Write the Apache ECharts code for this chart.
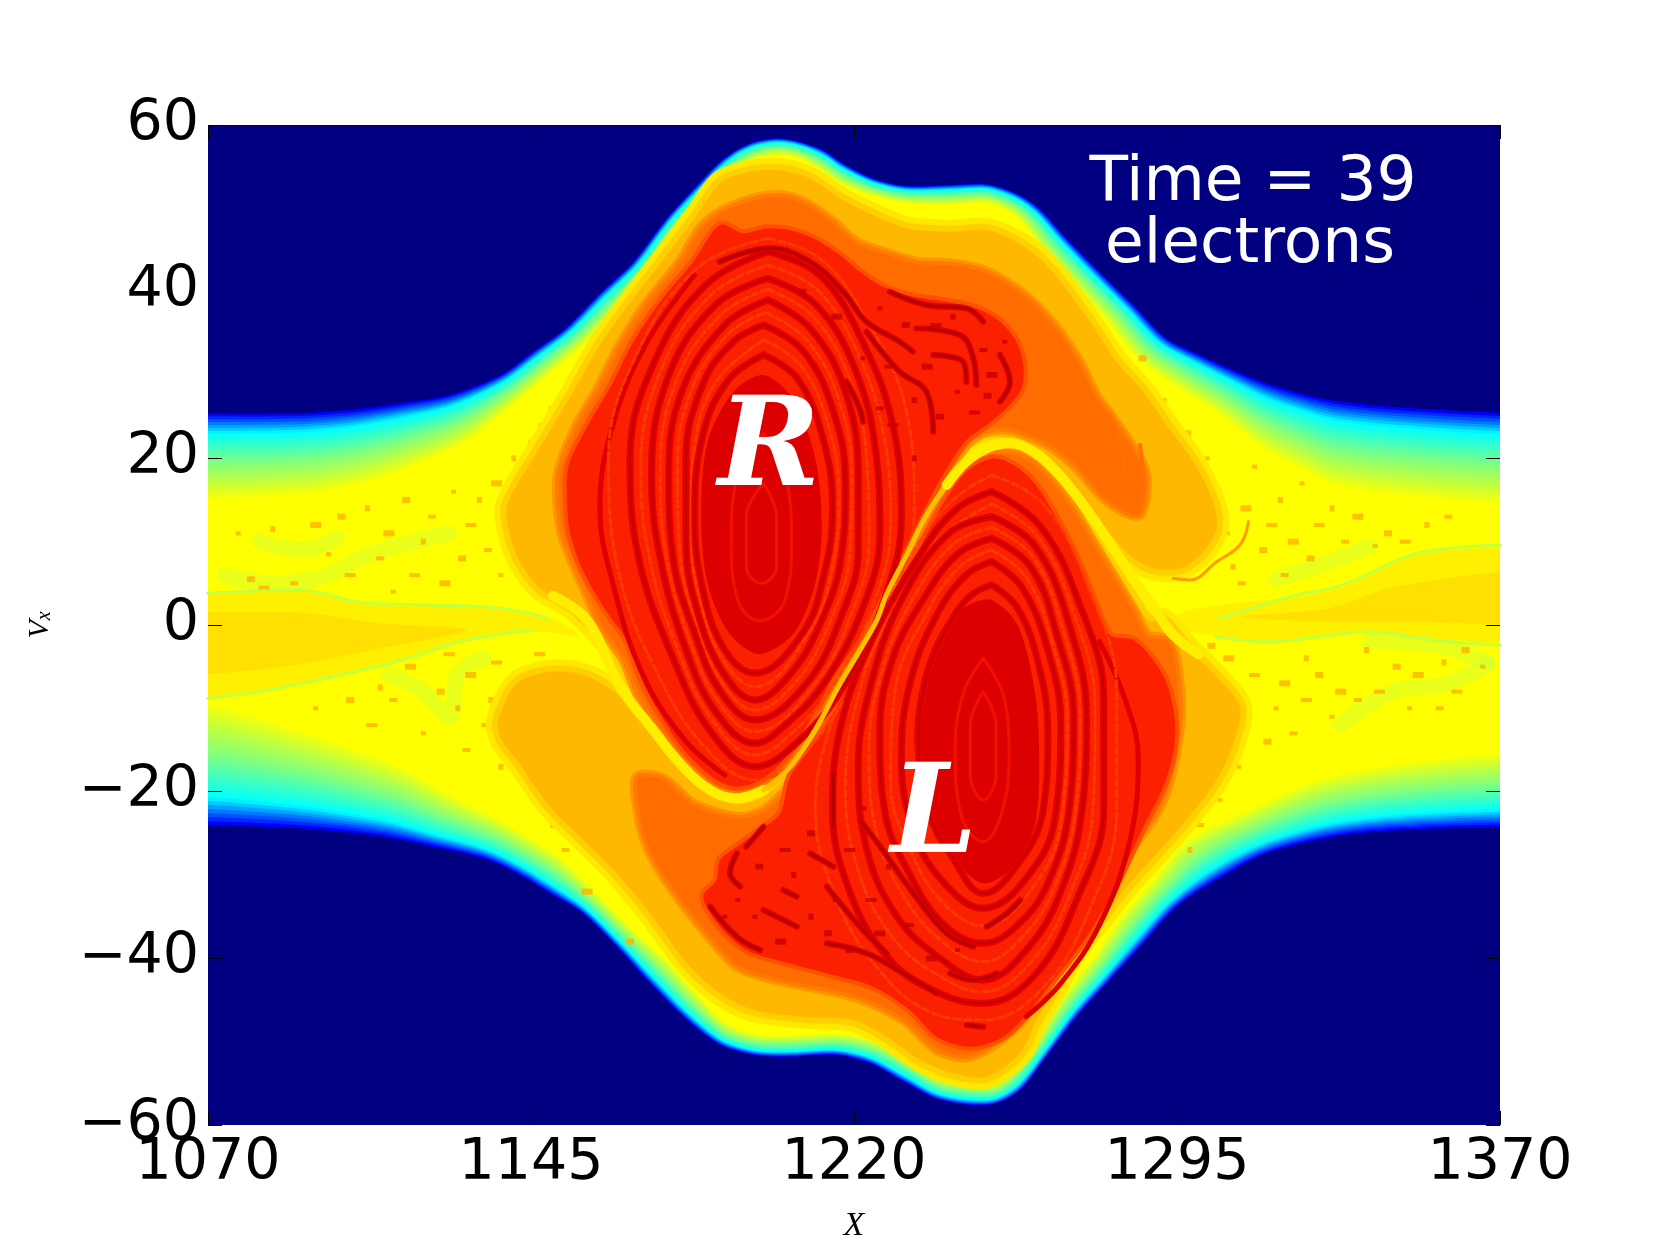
<!DOCTYPE html>
<html>
<head>
<meta charset="utf-8">
<style>html,body{margin:0;padding:0;background:#fff}#chart{width:1667px;height:1250px}</style>
<script src="https://cdn.jsdelivr.net/npm/echarts@6/dist/echarts.min.js"></script>
</head>
<body>
<div id="chart"></div>
<script>
// Electron phase space (X, Vx) at time 39: contours of the distribution function.
const xTicks = [1070, 1145, 1220, 1295, 1370];
const yTicks = [-60, -40, -20, 0, 20, 40, 60];

// Plasma edge: navy boundary and the contour where the distribution reaches yellow.
const upperOuter = [[1030,25.4],[1066,25.4],[1091,25.4],[1103,25.8],[1114.6,26.6],[1126,27.6],[1138,30],[1145.5,32.8],[1153,35.6],[1161,39.8],[1168.8,43.6],[1176.5,48.8],[1184,53],[1188,55.2],[1192,56.8],[1197,58],[1202.4,58.4],[1207.4,58],[1212.8,57],[1217.5,55.4],[1224.4,53.6],[1232,52.7],[1242,52.8],[1250.8,52.9],[1257.7,51.8],[1263,50],[1269.4,46.4],[1277,42.4],[1284.9,38.4],[1292.6,34.4],[1300.3,32.4],[1308,30.6],[1315.8,29],[1323.6,27.8],[1331.3,26.9],[1346.8,26.1],[1374,25.4],[1410,25.4]];
const upperInner = [[1030,15],[1066,15],[1091,15.6],[1104.5,16.8],[1118.4,19.2],[1130,22],[1141.7,26.8],[1150,30.4],[1158,34],[1165.7,38],[1172.6,42],[1179.6,47.2],[1187.3,51.6],[1191,53.4],[1194,55],[1198,56],[1202.4,56.4],[1207,56],[1212,54.6],[1216.5,53],[1224,51.5],[1232,50.6],[1242,50.4],[1250.8,50.6],[1256.5,49.4],[1260,47.6],[1263.2,45.2],[1270.9,40.8],[1278.7,36.4],[1285.6,32],[1294.1,28.8],[1305,25.2],[1315,21.2],[1323.6,18.8],[1331.3,16.8],[1346.8,15.6],[1374,14.4],[1410,14.4]];
const lowerOuter = [[1030,-24],[1066,-24],[1091,-24.4],[1110.7,-25.4],[1122.3,-26.6],[1134,-28],[1141.7,-29.8],[1149.4,-32.2],[1157,-34.6],[1164.9,-38.6],[1172.6,-43],[1181.2,-47.4],[1189,-50.4],[1196.7,-51.6],[1204.4,-51.8],[1216,-51.6],[1223.7,-52.6],[1231.5,-54.8],[1239,-56.8],[1247,-57.6],[1253,-57.4],[1258.6,-55.8],[1264.4,-52],[1271.7,-47],[1279.4,-42.6],[1287.2,-38.2],[1294.9,-33.8],[1304.2,-30.6],[1315.8,-27.4],[1331.3,-25.4],[1346.8,-24.6],[1374,-24.2],[1410,-24.2]];
const lowerInner = [[1030,-9],[1066,-9],[1091,-12.6],[1114.6,-17],[1127,-20.6],[1137.8,-23.4],[1145.5,-25.8],[1152.5,-28.2],[1159.5,-31.8],[1168.8,-36.6],[1176.5,-40.2],[1184.3,-44.6],[1190.5,-47.8],[1196.7,-49],[1204.4,-49.2],[1216.8,-49],[1225.3,-49.8],[1233,-51.8],[1240,-54.2],[1247,-54.8],[1253,-54.8],[1257,-53],[1262.4,-49.4],[1268,-44.8],[1275.6,-39.8],[1282.5,-34.6],[1288.7,-31],[1297.2,-25.8],[1309.6,-22.6],[1327.4,-18.6],[1346.8,-16.6],[1374,-15.2],[1410,-15.2]];

// Cold beam tails on either side of the vortices.
const goldLeft = [[1030,3.6],[1066,3.6],[1091,4.2],[1106.8,2.6],[1122.3,2.4],[1137.8,2],[1149.4,0.8],[1156,-1.2],[1145.5,-0.8],[1130,-2],[1114.6,-4.4],[1099,-6.4],[1083.6,-8],[1066,-9],[1030,-9]];
const goldRight = [[1290,0],[1300,2],[1323.6,3.4],[1331.3,4.2],[1339,5.8],[1346.8,7.8],[1354.5,8.8],[1374,9.4],[1410,9.4],[1410,-2.2],[1374,-2.2],[1354,-1.6],[1339,-0.6],[1331,-1],[1315.8,-1.8],[1300,-1]];
const goldLeftCore = [[1030,1.5],[1066,1.5],[1091,1.5],[1110,0.2],[1130,-0.6],[1110,-2.8],[1090,-4.8],[1066,-6],[1030,-6]];
const goldRightCore = [[1310,1],[1330,2],[1345,4.5],[1374,6.5],[1410,6.5],[1410,0],[1374,0],[1350,0.4],[1330,0.4]];

const greenThinLines = [
  [[1070,3.8],[1091,4.2],[1107,2.6],[1122,2.4],[1138,2],[1149,0.8]],
  [[1070,-8.8],[1084,-7.8],[1099,-6.2],[1115,-4.2],[1130,-1.8],[1146,-0.6]],
  [[1305,0.8],[1323,3.6],[1331,4.4],[1339,6],[1347,8],[1355,9],[1370,9.6]],
  [[1304,-1.4],[1316,-2],[1331,-1.2],[1340,-0.8],[1354,-1.8],[1370,-2.4]]
];
const greenPatches = [
  [[1074,6],[1085,5],[1098,6],[1105,8],[1118,10],[1126,11]],
  [[1082,10],[1092,9],[1100,10.5]],
  [[1112,-6],[1120,-8],[1126,-11],[1128,-6],[1134,-4]],
  [[1340,-2],[1355,-2.4],[1367,-4.6]],
  [[1333,-12],[1345,-8],[1358,-7],[1367,-4.6]],
  [[1318,5.5],[1330,7.5],[1340,9.5]]
];

// Hot speckle scattered through the trapped-particle fringe.
const speckleUpperLeft = [[1077,11],[1080,5.5],[1083,4.5],[1085,11.5],[1090,5],[1095,12],[1098,8.5],[1101,13],[1103,6],[1107,14],[1110,8],[1112,11],[1113,4],[1116,15],[1118,6],[1120,10],[1122,13],[1125,5],[1127,16],[1129,8],[1131,12],[1133,15],[1135,9],[1137,17],[1138,6],[1139,12],[1140,10],[1141,20],[1142,14],[1143,7],[1145,22],[1146,5.5],[1148,24],[1149,3.5],[1150,26],[1152,2.5]];
const speckleLowerRight = [[1366,-5],[1362,-3],[1360,-8],[1357,-4.5],[1356,-10],[1351,-6],[1349,-10],[1346,-5],[1342,-8],[1339,-3],[1337,-9],[1333,-8],[1331,-11],[1328,-6],[1325,-9],[1325,-4],[1322,-13],[1320,-7],[1318,-10],[1316,-14],[1313,-6],[1311,-12],[1309,-17],[1307,-4],[1305,-21],[1303,-2.5],[1300,-24],[1298,-27]];
const speckleLowerLeft = [[1095,-10],[1103,-9],[1108,-12],[1110,-7.5],[1113,-9],[1117,-5],[1120,-13],[1124,-8],[1126,-3.5],[1128,-10],[1130,-15],[1131,-6],[1134,-12],[1136,-9],[1137,-4.5],[1138,-17],[1139,-11.5],[1141,-14],[1143,-6],[1145,-20],[1147,-3.5],[1150,-24],[1153,-27],[1158,-32],[1161,-28],[1168,-38]];
const speckleUpperRight = [[1302,20],[1304,16],[1306,11],[1308,7],[1310,5],[1311,14],[1313,19],[1315,9],[1317,12],[1319,15],[1320,6],[1322,10],[1324,17],[1326,8],[1328,12],[1331,14],[1334,10],[1337,13],[1341,9.5],[1344,11],[1348,10],[1353,12],[1358,13],[1297,23],[1292,27],[1287,32]];
const darkBitsUpper = [[1226,38],[1232,36],[1239,36],[1243,37],[1250,33],[1252,30],[1244,28],[1240,25],[1248,25.5],[1234,27],[1228,31],[1237,31],[1255,34],[1251,27.5],[1229,24],[1234,20],[1226,26],[1216,37],[1222,32],[1208,40]];
const darkBitsLower = [[1193,-33],[1198,-29],[1204,-27],[1210,-35],[1216,-33],[1203,-38],[1197,-35],[1219,-39],[1224,-33],[1228,-29],[1233,-36],[1238,-40],[1244,-39],[1210,-25],[1219,-27],[1206,-30],[1222,-22],[1226,-37],[1190,-35],[1214,-37]];

// Amber halo round each vortex.
const amberUpper = [[1139.3,14],[1141.7,16.8],[1145.5,20],[1150.2,24],[1154.8,28],[1161,33.6],[1168.8,39.2],[1176.5,44.4],[1183.5,49.2],[1188.8,53],[1194.3,54.2],[1202.4,54.6],[1209.7,53.6],[1216.7,51.2],[1224.4,49.2],[1232.2,47.6],[1242.2,47.2],[1250.8,47.4],[1257.7,46],[1263.1,44],[1268.6,40.8],[1275.6,35.8],[1281,31.6],[1287.2,28],[1292.6,24],[1298.8,19.6],[1303.4,14.8],[1304.2,11.6],[1301.1,8.8],[1295.7,6.8],[1289.5,6.8],[1284.9,8],[1280.2,10.4],[1275.6,13.2],[1269.4,17.6],[1263.2,20.4],[1253.9,22.6],[1246,21.6],[1241.5,18],[1236.8,13.6],[1232,8.8],[1227.5,4],[1223,-0.8],[1217,-6.6],[1211,-11.8],[1205,-16.6],[1199,-19.4],[1193,-20.2],[1187,-19.4],[1180,-16.2],[1174,-12.2],[1169.6,-8.2],[1165.7,-4.5],[1161,-1.2],[1154.8,2],[1147.1,4.4],[1142.4,7.6],[1140.1,10.8]];
const amberLower = [[1137.4,-11.4],[1141.7,-7],[1149.4,-5.6],[1157.2,-6],[1164.9,-8.2],[1170.3,-11],[1176.5,-15],[1182.7,-18.2],[1188.9,-20.6],[1193,-21.5],[1199,-20.6],[1205,-17.8],[1211.4,-13],[1216.8,-8],[1221.4,-4],[1225.3,-0.4],[1227.5,3],[1232,7.8],[1236.8,12.4],[1241.5,16.2],[1246,19],[1250.8,20.6],[1256,21],[1261.6,19.8],[1266.2,17.6],[1271,14.4],[1275.5,10.6],[1280,7],[1285,3],[1288.5,0.5],[1291.8,0.6],[1297.2,-2.6],[1303.4,-5.8],[1309.6,-9.8],[1308.1,-14.2],[1304.2,-18.6],[1297.2,-23.4],[1290.3,-27.4],[1283.3,-31.4],[1277.1,-35.4],[1270.9,-39.4],[1267,-43.4],[1262.4,-47.4],[1258.5,-51.4],[1250.8,-54.2],[1243.1,-53.8],[1235.4,-52.2],[1227.6,-49.4],[1219.9,-47.4],[1208.3,-47],[1196.7,-46.2],[1188.9,-44.2],[1181.2,-40.6],[1172.6,-34.6],[1164.9,-29.8],[1157.2,-25.8],[1149.4,-21.8],[1141.7,-16.2],[1138.2,-13.8]];

// Orange shells.
const orangeUpper = [[1155.5,6.4],[1152,11.2],[1151,16.8],[1152,19.6],[1156,24.4],[1160.5,28.4],[1166,34],[1172,38.8],[1179.5,43.6],[1184.2,47.6],[1188.8,49.6],[1194.3,50.8],[1199.7,51.5],[1205,51.4],[1209.7,50.4],[1215.2,48.4],[1220.6,46],[1226.8,44.8],[1234.5,43.6],[1242.2,43.4],[1250,42.6],[1257.7,40.4],[1263.1,38],[1267.8,35.2],[1272.4,31.6],[1276.3,27.6],[1280.2,24.8],[1284,22],[1287.5,18.8],[1287.9,16],[1286.4,13.2],[1282.5,13.6],[1277.1,15.6],[1271.7,18.8],[1266.2,21.2],[1261.6,22.4],[1256.2,23.4],[1250.8,23.2],[1246.1,21.6],[1241.5,18],[1236.8,13.6],[1232,8.8],[1227.5,4],[1222.9,-0.8],[1216.8,-6.6],[1211.4,-11.8],[1205.2,-16.6],[1199,-19.4],[1192.8,-20.2],[1187.4,-19.4],[1180.4,-16.2],[1174.2,-12.2],[1169.6,-8.2],[1166.5,-4.2],[1161,0],[1158,3.5]];
const orangeLower = [[1169.6,-18.2],[1175.8,-18.4],[1182.7,-21.4],[1192.8,-23],[1199,-22.2],[1206,-18.6],[1212.1,-13.4],[1217.6,-8.2],[1225.3,-0.6],[1227.5,2.4],[1232.2,7.2],[1236.8,12],[1241.5,16],[1246.1,18.8],[1250.8,20.4],[1256.2,20.8],[1261.6,19.6],[1266.2,17.2],[1270.9,14],[1275.5,10],[1280.2,6],[1284.8,2],[1288.3,-1.2],[1293.4,-1.8],[1295.7,-7.4],[1295.7,-12.2],[1293.4,-18.6],[1290.3,-22.6],[1284.9,-26.6],[1280.2,-31],[1274.8,-34.6],[1269.4,-39.4],[1263.2,-44.6],[1257,-48.6],[1247,-51.8],[1239.2,-51],[1231.5,-47.4],[1219.9,-44.6],[1202.1,-42.6],[1192.8,-41],[1185,-36.6],[1177.3,-31.4],[1171.9,-26.6],[1169.6,-21.8]];

// Trapped-particle cores, R above and L below.
const redUpper = [[1188.9,48],[1194.3,47],[1199.7,47.6],[1205,47.4],[1210.5,46.4],[1216.7,44.4],[1221.3,42.4],[1227.5,40.4],[1233.7,39.4],[1241.5,38.8],[1248.4,38],[1253.9,36.4],[1257.7,34],[1259.3,31.2],[1258.9,28.4],[1255.4,26],[1250.8,24],[1246.1,22.2],[1241.5,18.8],[1236.8,14.4],[1232.2,9.6],[1227.5,4.8],[1222.9,0],[1219.9,-2.6],[1215.2,-6.2],[1209.8,-11.4],[1203.6,-16.2],[1198.2,-18.6],[1192.8,-19.4],[1188.1,-18.6],[1181.2,-15.4],[1175.8,-11.4],[1171.1,-7],[1167.2,-1.8],[1162.6,1.6],[1157.2,6.4],[1154,11.2],[1153.3,16.8],[1154,19.6],[1158.7,24.4],[1163.3,28.4],[1168.8,34],[1175,38.8],[1182.7,43.6]];
const redLower = [[1252.3,20],[1246.1,18.4],[1241.5,15.2],[1237.6,11.6],[1233,6.8],[1228.3,2],[1226,-0.6],[1221.4,-4.6],[1216.8,-9],[1211.4,-13.8],[1205.2,-18.2],[1202.9,-22.6],[1198.2,-24.6],[1192.8,-26.6],[1188.9,-28.2],[1188.1,-30.6],[1185,-32.6],[1188.9,-36.2],[1195,-39],[1202.1,-40.2],[1213.7,-41.8],[1224.5,-43.4],[1233,-46.2],[1239.2,-49.4],[1247,-50.6],[1254.7,-49.4],[1260.9,-46.2],[1266.3,-42.6],[1274,-37.4],[1279.5,-32.6],[1287.2,-24.2],[1291.8,-19.4],[1294.1,-15.4],[1294.5,-11.4],[1292.6,-7],[1289.5,-4.2],[1284.9,-1.8],[1279.4,-1.2],[1275.5,3.2],[1271.7,8],[1266.2,13.6],[1261.6,17.2],[1257,19.2]];
const coreUpper = [[1199,30],[1206,27],[1211,20],[1212.5,12],[1211,5],[1206,-1],[1198,-3.5],[1191,-1],[1186,5],[1184.5,13],[1186,22],[1192,28]];
const coreLower = [[1252,3],[1258,0],[1262,-8],[1263,-16],[1262,-24],[1257,-29],[1250,-31],[1243,-28],[1237,-22],[1234,-14],[1236,-6],[1241,0],[1247,2.5]];
const coreRingsBright = [
  [[1199,23],[1204,18],[1205.5,10],[1204,3],[1198,0.5],[1193,3],[1191.5,10],[1193,18],[1199,23]],
  [[1199,17],[1202,13],[1202,7],[1198.5,5],[1195,7],[1195,13],[1199,17]],
  [[1250,-4],[1255,-9],[1256,-16],[1254,-23],[1250,-26],[1245,-23],[1243.5,-15],[1245.5,-8],[1250,-4]],
  [[1250,-8],[1253,-12],[1253,-18],[1250,-21],[1247,-18],[1247,-12],[1250,-8]]
];
const ringsUpper = [
  [[1200,44.8],[1212,42],[1222,34],[1229,24],[1231,13],[1227,3],[1218,-7],[1207,-14],[1197,-17],[1187,-13],[1178,-4],[1170,8],[1168,20],[1174,32],[1186,41],[1200,44.8]],
  [[1200,41.6],[1211,38.5],[1220,31],[1225,21],[1226,11],[1222,2],[1213,-7],[1204,-12],[1197,-14.2],[1188,-10.5],[1181,-3],[1175,8],[1173,18],[1177,30],[1188,38.5],[1200,41.6]],
  [[1200,39],[1210,35.5],[1218,28],[1221,18],[1221,9],[1217,1],[1209,-7],[1197,-11.4],[1189,-8],[1183,-1],[1178,8],[1177,18],[1180,28],[1190,36],[1200,39]],
  [[1199,36],[1208,33],[1215,26],[1218,17],[1217,8],[1212,0],[1205,-6],[1197,-9],[1190,-6],[1184,1],[1181,10],[1181,20],[1185,29],[1192,34],[1199,36]],
  [[1199,32.4],[1207,29.5],[1213,22],[1215,14],[1213,6],[1208,-1],[1197,-5.8],[1190,-3],[1185,4],[1183,13],[1185,23],[1191,29.5],[1199,32.4]]
];
const ringsLower = [
  [[1252,16],[1263,12],[1272,3],[1278,-9],[1278,-22],[1271.7,-33],[1262,-42],[1250,-45.4],[1239,-44],[1228,-40],[1219,-32],[1215,-22],[1217,-12],[1224,-2],[1236,9],[1244,14],[1252,16]],
  [[1252,13],[1262,9.5],[1270,0],[1274,-11],[1273,-22],[1268,-32],[1260,-39],[1250,-42.6],[1240,-40],[1230,-35],[1223,-27],[1221,-17],[1224,-7],[1231,3],[1242,11],[1252,13]],
  [[1252,10.4],[1261,7],[1267,-1],[1271,-11],[1270,-22],[1265,-31],[1258,-36],[1250,-38.2],[1241,-36],[1233,-30],[1227,-22],[1226,-13],[1229,-4],[1236,3],[1244,8.5],[1252,10.4]],
  [[1252,7.6],[1259,4.5],[1265,-3],[1268,-12],[1267,-22],[1262,-29],[1250,-34],[1241,-31],[1234,-25],[1231,-16],[1233,-7],[1239,1],[1246,6],[1252,7.6]],
  [[1252,4.8],[1258,2],[1263,-5],[1265,-13],[1264,-22],[1259,-28],[1250,-32.2],[1243,-28],[1237,-22],[1235,-14],[1237,-6],[1242,0],[1247,3.5],[1252,4.8]]
];
// Lighter bands lying between the dark rings.
const ringsBetween = [
  [[1200,46.4],[1212,44],[1222.5,37],[1232,26],[1234,14],[1229,3],[1220,-7],[1208,-15.5],[1197,-18.6],[1186,-15],[1175,-6.5],[1165.5,6],[1163,20],[1170,33],[1184,43],[1200,46.4]],
  [[1200,43.2],[1211.5,40.2],[1221,32.5],[1227,22.5],[1228.5,12],[1224.5,2.5],[1215.5,-7],[1205.5,-13],[1197,-15.6],[1187.5,-11.7],[1179.5,-3.5],[1172.5,8],[1170.5,19],[1175.5,31],[1187,39.7],[1200,43.2]],
  [[1200,40.3],[1210.5,37],[1219,29.5],[1223,19.5],[1223.5,10],[1219.5,1.5],[1211,-7],[1197,-12.8],[1188.5,-9.2],[1182,-2],[1176.5,8],[1175,18],[1178.5,29],[1189,37.2],[1200,40.3]],
  [[1199.5,37.5],[1209,34.2],[1216.5,27],[1219.5,17.5],[1219,8.5],[1214.5,0.5],[1207,-6.5],[1197,-10.2],[1189.5,-7],[1183.5,0],[1179.5,9],[1179,19],[1182.5,28.5],[1191,35],[1199.5,37.5]],
  [[1199,34.2],[1207.5,31.2],[1214,24],[1216.5,15.5],[1215,7],[1210,-0.5],[1197,-7.4],[1190,-4.5],[1184.5,2.5],[1182,11.5],[1183,21.5],[1188,29.2],[1199,34.2]],
  [[1252,18],[1264,14.5],[1274,5],[1281,-8],[1281,-22],[1274,-35],[1263,-44],[1250,-47.4],[1238,-46.5],[1226,-41.5],[1216,-33],[1211,-22],[1214,-13],[1222,-3],[1234,9],[1243,15],[1252,18]],
  [[1252,14.5],[1262.5,10.7],[1271,1.5],[1276,-10],[1275.5,-22],[1270,-32.5],[1261,-40.5],[1250,-44],[1239.5,-42],[1229,-37.5],[1221,-29.5],[1218,-19.5],[1220.5,-9.5],[1227.5,0.5],[1239,10],[1252,14.5]],
  [[1252,11.7],[1261.5,8.2],[1268.5,-0.5],[1272.5,-11],[1271.5,-22],[1266.5,-31.5],[1259,-37.5],[1250,-40.4],[1240.5,-38],[1231.5,-32.5],[1225,-24.5],[1223.5,-15],[1226.5,-5.5],[1233.5,3],[1243,9.7],[1252,11.7]],
  [[1252,9],[1260,5.7],[1266,-2],[1269.5,-11.5],[1268.5,-22],[1263.5,-30],[1250,-36.1],[1241,-33.5],[1233.5,-27.5],[1228.5,-19],[1229.5,-8],[1237.5,2],[1245,7.2],[1252,9]]
];
const outerArcs = [
  [[1183,42],[1172,34],[1164,24],[1161,14],[1164,5],[1171,-6],[1181,-14],[1190,-18]],
  [[1277,-2],[1283,-9],[1286,-16],[1284,-26],[1277,-36],[1268,-43],[1260,-47]]
];
const streaks = [
  [[1188.8,43.6],[1200.4,45.2],[1209.7,43.6],[1217.5,40],[1222.9,36.4],[1230.6,34],[1233.7,32.8]],
  [[1228.3,40],[1236.8,38.4],[1246.1,38],[1250,36.4]],
  [[1234.5,35.6],[1244.6,34.8],[1247.7,32],[1248.4,28.8]],
  [[1238.4,32.4],[1245.3,31.6],[1246.1,29.2]],
  [[1218.3,29.2],[1221.3,26],[1222.1,24.4]],
  [[1222.9,35.2],[1230.6,30.4],[1236.8,28],[1238.4,23.2]],
  [[1253.9,32.4],[1256.2,29.2],[1253.9,26.8]],
  [[1186.6,-33.8],[1192.8,-37.4],[1198.2,-39]],
  [[1199,-34.2],[1206.7,-36.2]],
  [[1213.7,-38.2],[1223,-39.4],[1231.5,-41.8],[1239.2,-44.2]],
  [[1213.7,-31.4],[1221.4,-36.2],[1227.6,-39.4]],
  [[1209.8,-27.4],[1215.2,-29]],
  [[1192.8,-27.4],[1191.2,-29.8],[1193.6,-31.4]],
  [[1203.6,-31.8],[1206.7,-32.6]],
  [[1215.2,-17.8],[1215.2,-24.2]],
  [[1221.4,-23.4],[1226.1,-26.6],[1233.8,-32.2],[1241.5,-37],[1247.7,-38.6]],
  [[1242.3,-41.8],[1247.7,-42.6],[1253.2,-41.8]],
  [[1199,-24.2],[1195,-26.6]],
  [[1250.8,-36.2],[1255.5,-34.6],[1258.6,-33]],
  [[1246.2,-48],[1250,-48.2]]
];

// Swirling arms inside the right-hand halo.
const orangeArms = [
  [[1279.4,25.2],[1282.5,20.4],[1282.5,17.6],[1277.1,18.8]],
  [[1286.4,21.6],[1287.2,17.2],[1284.9,13.6],[1277.1,16]]
];
const amberArms = [
  [[1294.1,5.6],[1298,5.4],[1304.2,7.6],[1309.6,9.6],[1311.6,12.4]]
];

// The separatrix filament running between the two vortices.
const filamentLowerTurn = [[1150,3.5],[1158,0.6],[1165.7,-7.4],[1173.4,-12.6],[1179.6,-16.6],[1186.6,-19.8],[1192.8,-20.8],[1199,-19.8]];
const filamentDiagonal = [[1199,-19.8],[1205.2,-17],[1211.4,-12.2],[1216.8,-7],[1221.4,-3],[1225.3,0.6],[1227.5,3.6],[1232.2,8.4],[1236.8,13.2],[1241.5,16.8]];
const filamentUpperTurn = [[1241.5,16.8],[1246.1,19.6],[1250.8,21.2],[1256.2,21.8],[1261.6,20.8],[1266.2,18.8],[1270.9,16],[1275.5,12.8],[1280.2,9.2],[1284.8,5.6],[1290.2,1.6],[1294.1,-1.2],[1300,-3.5]];

const series = [];
function polygon(points, fill, stroke, strokeWidth) {
  series.push({
    type: 'custom', clip: true, silent: true, animation: false, z: 2 + series.length * 0.01,
    data: points, encode: { x: 0, y: 1 },
    renderItem: (params, api) => params.dataIndex !== 0 ? null : {
      type: 'polygon',
      shape: { points: points.map(p => api.coord(p)), smooth: 0.3 },
      style: { fill: fill, stroke: stroke || null, lineWidth: strokeWidth || 0, lineJoin: 'round' }
    }
  });
}
function curve(points, color, width, opacity, dash) {
  series.push({
    type: 'line', data: points, showSymbol: false, smooth: 0.4, silent: true, animation: false,
    z: 2 + series.length * 0.01,
    lineStyle: { color: color, width: width, opacity: opacity === undefined ? 1 : opacity, cap: 'round', join: 'round', type: dash || 'solid' }
  });
}
function speckle(points, color, opacity) {
  series.push({
    type: 'scatter', data: points, symbol: 'rect', silent: true, animation: false,
    symbolSize: (value, params) => [5 + (params.dataIndex % 3) * 3, 4 + (params.dataIndex % 2) * 2],
    z: 2 + series.length * 0.01, itemStyle: { color: color, opacity: opacity }
  });
}

// Colour ramp from the vacuum edge to the yellow plateau, painted as nested bands.
const rampStops = [[0, [0, 0, 255]], [0.21, [0, 255, 255]], [0.56, [128, 255, 128]], [1, [255, 255, 0]]];
function rampColor(t) {
  for (let i = 1; i < rampStops.length; i++) {
    if (t <= rampStops[i][0]) {
      const a = rampStops[i - 1], b = rampStops[i], f = (t - a[0]) / (b[0] - a[0]);
      return 'rgb(' + a[1].map((c, k) => Math.round(c + (b[1][k] - c) * f)).join(',') + ')';
    }
  }
  return 'rgb(255,255,0)';
}
const outerRing = upperOuter.concat(lowerOuter.slice().reverse());
const innerRing = upperInner.concat(lowerInner.slice().reverse());
const rampBands = 30;
for (let i = 0; i <= rampBands; i++) {
  const t = i / rampBands;
  polygon(outerRing.map((p, k) => [p[0] + (innerRing[k][0] - p[0]) * t, p[1] + (innerRing[k][1] - p[1]) * t]), rampColor(t));
}

polygon(goldLeft, '#fff000');
polygon(goldRight, '#fff000');
polygon(goldLeftCore, '#ffe000');
polygon(goldRightCore, '#ffe000');
greenThinLines.forEach(l => curve(l, '#c4ff3c', 3));
greenPatches.forEach(l => curve(l, '#c0ff48', 16, 0.35));
speckle(speckleUpperLeft, '#ffb000', 0.8);
speckle(speckleLowerRight, '#ffb000', 0.8);
speckle(speckleLowerLeft, '#ffb000', 0.8);
speckle(speckleUpperRight, '#ffb000', 0.8);

// Halo edges soften through wider, paler strokes underneath each fill.
[amberUpper, amberLower].forEach(shape => {
  polygon(shape, '#ffe800', '#ffe800', 24);
  polygon(shape, '#ffd000', '#ffd000', 12);
  polygon(shape, '#ffb800');
});
amberArms.forEach(l => curve(l, '#ff9a00', 3));
[orangeUpper, orangeLower].forEach(shape => {
  polygon(shape, '#ff9400', '#ff9400', 10);
  polygon(shape, '#ff6c00', '#ff7c00', 4);
});
orangeArms.forEach(l => curve(l, '#ff7000', 4));
[redUpper, redLower].forEach(shape => {
  polygon(shape, '#ff5000', '#ff5000', 8);
  polygon(shape, '#fa2000');
});
outerArcs.forEach(l => curve(l, '#dc0000', 5));
ringsBetween.forEach(l => curve(l, '#ff4000', 3, 0.8, [7, 4]));
polygon(coreUpper, '#dc0000');
polygon(coreLower, '#dc0000');
coreRingsBright.forEach(l => curve(l, '#f41000', 3));
ringsUpper.concat(ringsLower).forEach(l => { curve(l, '#e40000', 7); curve(l, '#c00000', 2); });
streaks.forEach(l => { curve(l, '#dc0000', 6); curve(l, '#b00000', 2.5); });
speckle(darkBitsUpper, '#c80000', 0.8);
speckle(darkBitsLower, '#c80000', 0.8);
curve(filamentLowerTurn, '#ffee00', 10);
curve(filamentDiagonal, '#ffc000', 5);
curve(filamentUpperTurn, '#ffee00', 10);

const tickStyle = { inside: true, length: 14, lineStyle: { color: '#000', width: 1 } };
const labelFont = { fontFamily: 'DejaVu Sans', fontSize: 57, color: '#000' };
const noLine = { show: false, onZero: false };

const option = {
  backgroundColor: '#fff',
  animation: false,
  grid: { left: 208, top: 125, width: 1292, height: 1000, show: true, backgroundColor: '#000080', borderWidth: 0 },
  xAxis: [
    { type: 'value', position: 'bottom', min: 1070, max: 1370, z: 20, splitLine: { show: false }, axisLine: noLine,
      axisTick: Object.assign({ customValues: xTicks }, tickStyle),
      axisLabel: Object.assign({ customValues: xTicks, margin: 11, showMinLabel: true, showMaxLabel: true, hideOverlap: false, formatter: v => String(v) }, labelFont),
      name: 'X', nameLocation: 'middle', nameGap: 84, nameTextStyle: { fontFamily: 'Liberation Serif', fontStyle: 'italic', fontSize: 34, color: '#000' } },
    { type: 'value', position: 'top', min: 1070, max: 1370, z: 20, splitLine: { show: false }, axisLine: noLine,
      axisTick: Object.assign({ customValues: xTicks }, tickStyle), axisLabel: { show: false } }
  ],
  yAxis: [
    { type: 'value', position: 'left', min: -60, max: 60, z: 20, splitLine: { show: false }, axisLine: noLine,
      axisTick: Object.assign({ customValues: yTicks }, tickStyle),
      axisLabel: Object.assign({ customValues: yTicks, margin: 9, formatter: v => String(v).replace('-', '\u2212') }, labelFont),
      name: '{v|V}{s|x}', nameLocation: 'middle', nameGap: 153,
      nameTextStyle: { rich: { v: { fontFamily: 'Liberation Serif', fontStyle: 'italic', fontSize: 30, color: '#000' }, s: { fontFamily: 'Liberation Serif', fontStyle: 'italic', fontSize: 20, color: '#000', verticalAlign: 'bottom', padding: [10, 0, 0, 0] } } } },
    { type: 'value', position: 'right', min: -60, max: 60, z: 20, splitLine: { show: false }, axisLine: noLine,
      axisTick: Object.assign({ customValues: yTicks }, tickStyle), axisLabel: { show: false } }
  ],
  graphic: [
    { type: 'text', z: 100, x: 1253, y: 184, style: { text: 'Time = 39', font: '63px "DejaVu Sans"', fill: '#fff', align: 'center', verticalAlign: 'middle' } },
    { type: 'text', z: 100, x: 1250, y: 246, style: { text: 'electrons', font: '63px "DejaVu Sans"', fill: '#fff', align: 'center', verticalAlign: 'middle' } },
    { type: 'text', z: 100, x: 769, y: 453, style: { text: 'R', font: 'italic bold 123px "DejaVu Serif"', fill: '#fff', align: 'center', verticalAlign: 'middle' } },
    { type: 'text', z: 100, x: 934, y: 820, style: { text: 'L', font: 'italic bold 123px "DejaVu Serif"', fill: '#fff', align: 'center', verticalAlign: 'middle' } }
  ],
  series: series
};

const chart = echarts.init(document.getElementById('chart'), null, { renderer: 'canvas' });
chart.setOption(option);
</script>
</body>
</html>
